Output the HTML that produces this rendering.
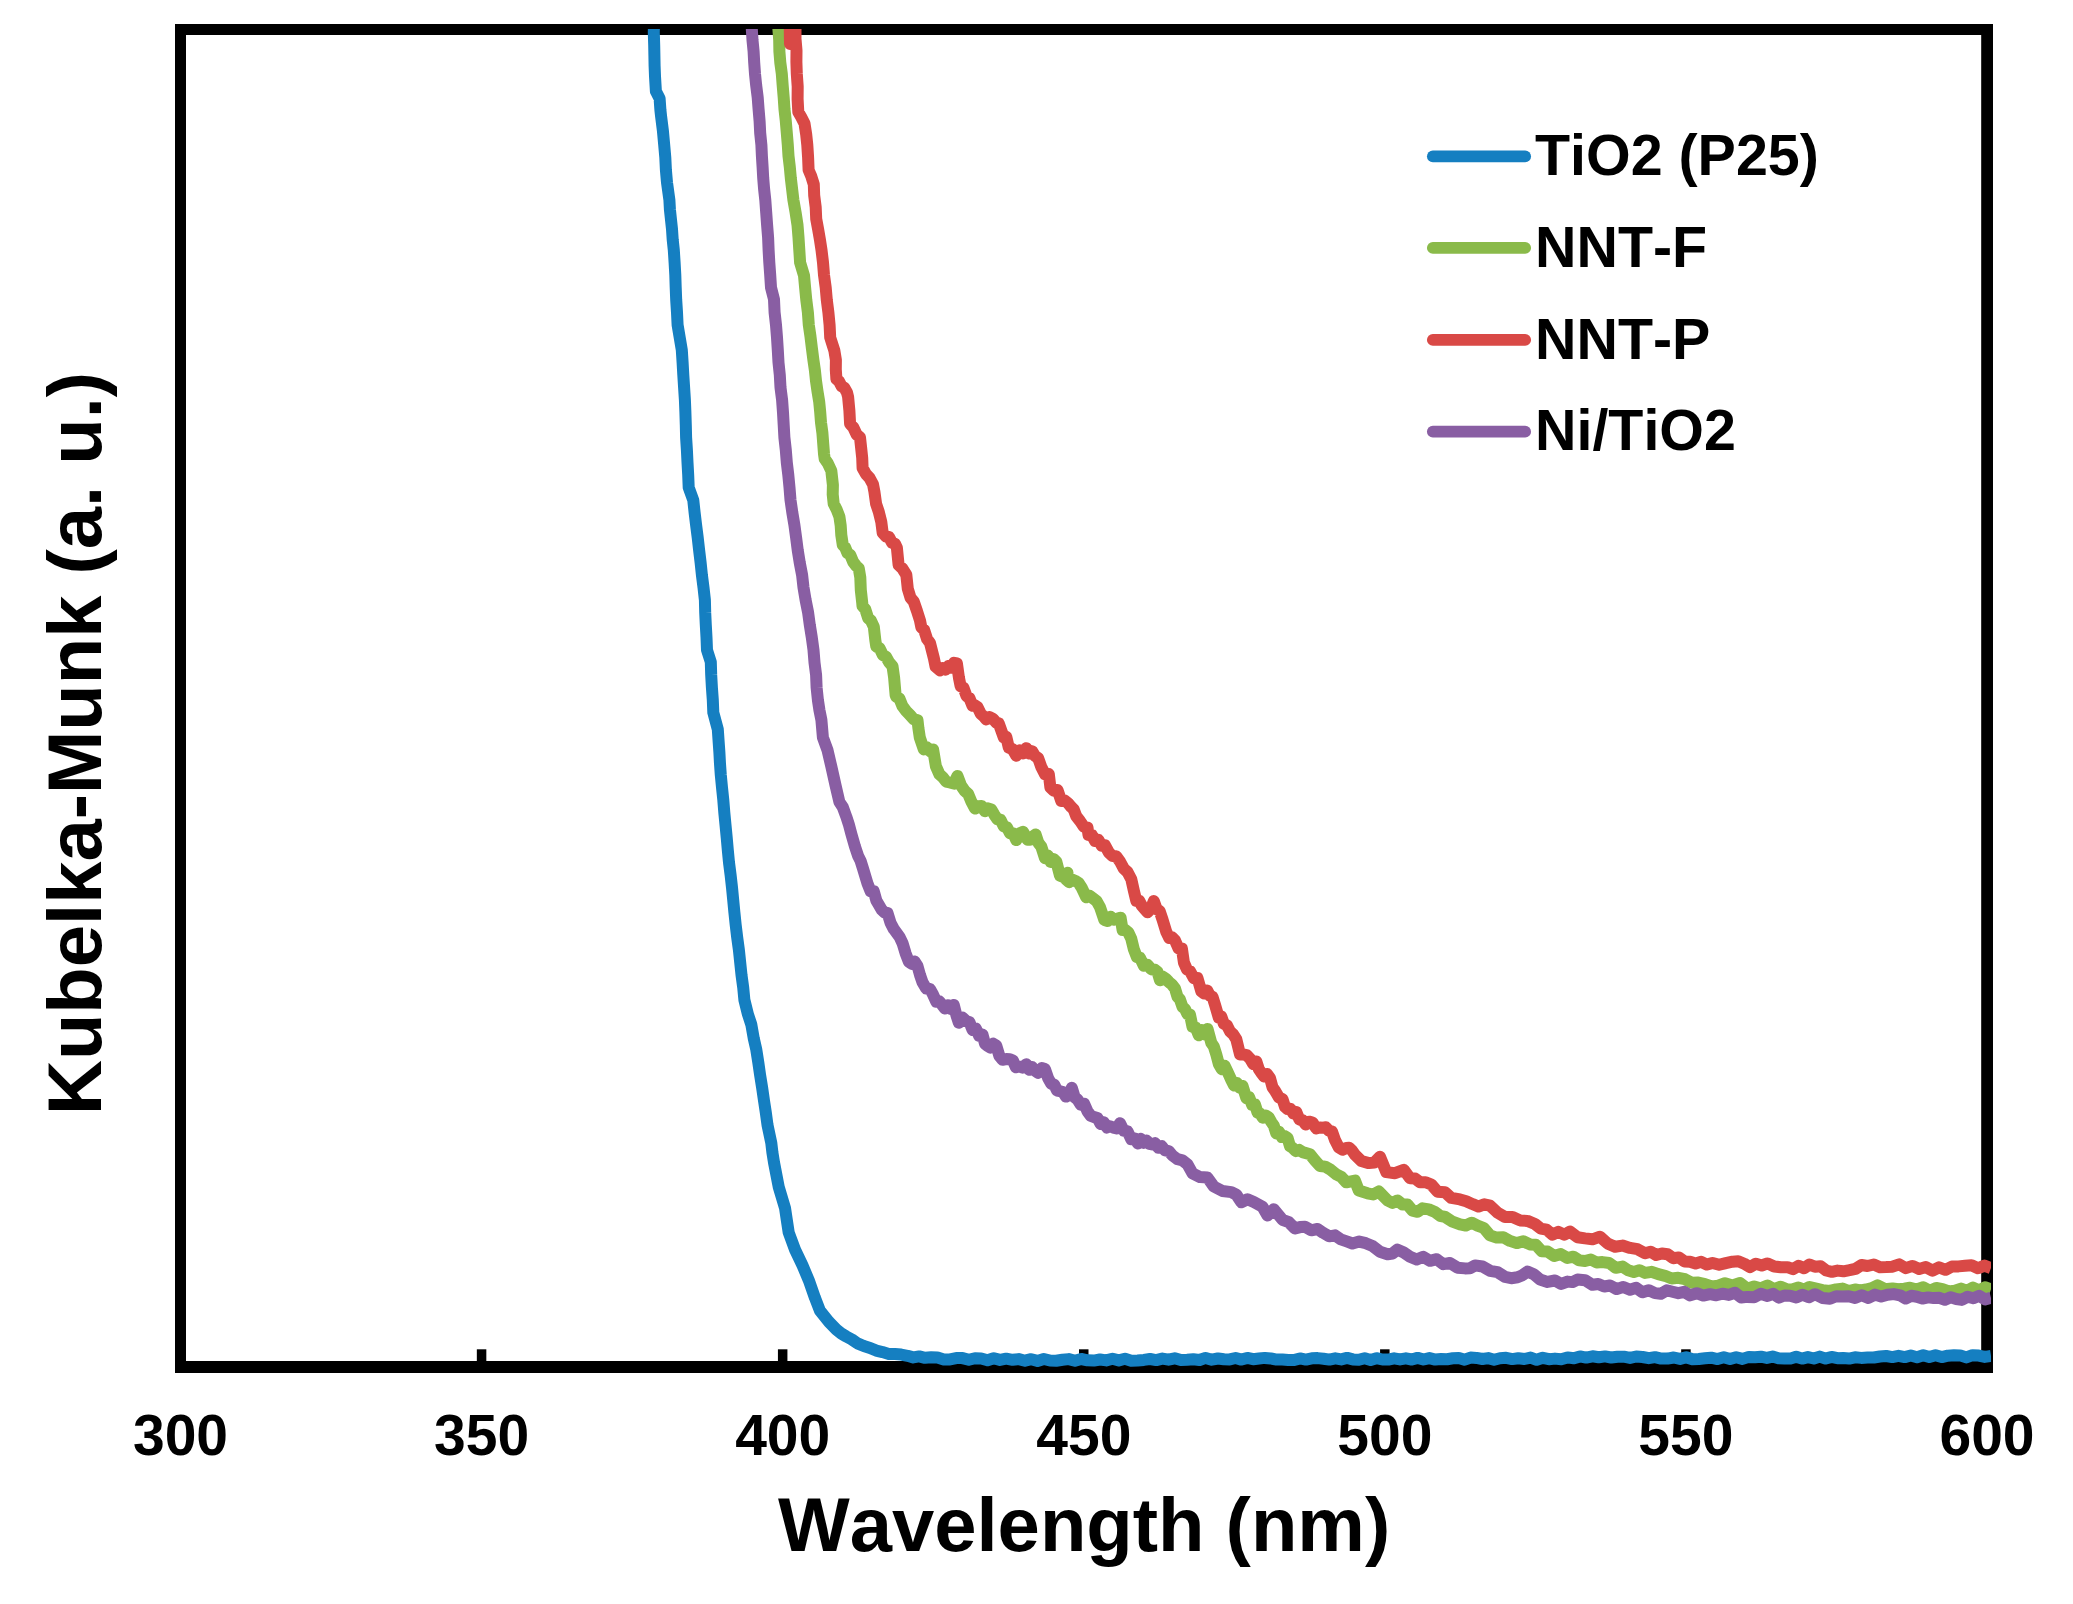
<!DOCTYPE html>
<html lang="en">
<head>
<meta charset="utf-8">
<title>Kubelka-Munk spectra</title>
<style>
html,body{margin:0;padding:0;background:#fff;}
body{width:2073px;height:1604px;overflow:hidden;}
svg{display:block;}
text{font-kerning:none;font-family:"Liberation Sans",Arial,Helvetica,sans-serif;font-weight:bold;fill:#000;}
.tick text{font-size:57px;text-anchor:middle;}
.legend text{font-size:57.4px;}
.title{font-size:76px;text-anchor:middle;}
</style>
</head>
<body>
<svg width="2073" height="1604" viewBox="0 0 2073 1604">
<defs><clipPath id="plot"><rect x="175" y="29" width="1816" height="1344"/></clipPath></defs>
<rect x="0" y="0" width="2073" height="1604" fill="#fff"/>
<g fill="#000">
<rect x="175" y="24" width="11" height="1349"/>
<rect x="175" y="24" width="1818" height="11"/>
<rect x="1981.2" y="24" width="11.8" height="1349"/>
<rect x="175" y="1361" width="1818" height="12"/>
<rect x="476.83" y="1349.3" width="9.5" height="13"/><rect x="777.92" y="1349.3" width="9.5" height="13"/><rect x="1079.00" y="1349.3" width="9.5" height="13"/><rect x="1380.08" y="1349.3" width="9.5" height="13"/><rect x="1681.17" y="1349.3" width="9.5" height="13"/>
</g>
<g clip-path="url(#plot)" fill="none" stroke-width="12" stroke-linejoin="round" stroke-linecap="butt">
<path stroke="#157fc1" d="M654.0,20.0 L653.8,32.5 L654.2,45.0 L654.4,55.4 L654.6,65.9 L655.0,76.3 L655.9,91.3 L659.6,98.5 L660.4,110.0 L661.1,116.3 L662.9,130.7 L664.2,145.0 L665.3,157.5 L665.9,170.0 L667.0,182.5 L669.4,200.0 L669.9,209.4 L670.9,218.8 L672.0,229.2 L672.7,239.6 L673.8,250.0 L674.6,262.5 L675.3,275.0 L675.7,287.5 L676.2,300.0 L677.0,312.5 L677.6,325.0 L679.7,337.5 L681.8,350.0 L682.6,362.5 L683.3,375.0 L684.1,387.5 L684.9,400.0 L685.4,412.5 L685.8,425.0 L686.1,437.5 L686.9,450.0 L687.5,462.5 L688.2,475.0 L688.7,487.5 L693.3,500.3 L694.6,512.5 L696.1,525.0 L697.7,537.5 L699.1,550.0 L700.6,562.5 L701.9,575.0 L703.5,587.5 L704.9,600.0 L705.2,612.5 L705.8,625.0 L706.5,637.5 L707.0,650.0 L710.8,662.0 L711.2,675.0 L711.9,687.5 L712.8,700.0 L713.3,712.5 L717.8,729.4 L718.6,741.2 L719.4,752.5 L720.0,763.8 L720.8,775.0 L722.0,787.5 L723.3,800.0 L724.3,812.5 L725.5,825.0 L726.7,837.5 L727.8,850.0 L729.0,862.5 L730.6,875.0 L732.0,887.5 L733.2,900.0 L734.4,912.5 L735.7,925.0 L737.2,937.5 L738.9,950.0 L740.2,962.5 L741.5,975.0 L743.2,987.5 L744.4,1000.0 L747.9,1014.2 L751.3,1024.5 L753.8,1038.7 L756.3,1049.7 L758.3,1062.5 L760.1,1075.0 L762.1,1087.5 L763.9,1100.0 L765.8,1112.5 L767.5,1125.0 L771.3,1143.0 L772.4,1152.5 L774.0,1162.5 L778.8,1187.3 L785.0,1207.9 L786.8,1220.0 L788.7,1232.5 L795.0,1249.6 L802.5,1265.4 L808.8,1280.3 L815.0,1297.9 L820.0,1310.8 L828.8,1321.8 L836.3,1329.5 L841.3,1333.5 L846.3,1336.5 L851.9,1339.5 L857.5,1343.4 L863.8,1346.0 L870.0,1347.9 L876.2,1350.6 L882.5,1352.1 L888.8,1353.9 L895.0,1354.1 L901.2,1354.6 L907.5,1355.8 L913.3,1357.4 L919.2,1356.4 L925.0,1357.8 L931.2,1357.3 L937.5,1357.5 L943.8,1359.4 L950.0,1359.4 L956.2,1358.1 L962.5,1358.1 L968.8,1359.8 L975.0,1358.2 L981.2,1358.5 L987.5,1360.2 L993.8,1358.2 L1000.0,1359.9 L1006.2,1358.7 L1012.5,1359.8 L1018.8,1359.1 L1025.0,1360.7 L1031.2,1359.2 L1037.5,1360.9 L1043.8,1359.0 L1050.0,1360.5 L1056.2,1360.8 L1062.5,1359.8 L1068.8,1359.1 L1075.0,1360.7 L1081.2,1359.0 L1087.5,1360.3 L1093.8,1360.6 L1100.0,1359.5 L1106.2,1360.4 L1112.5,1358.8 L1118.8,1360.4 L1125.0,1358.8 L1131.2,1360.7 L1137.5,1360.4 L1143.8,1359.9 L1150.0,1359.0 L1156.2,1360.1 L1162.4,1358.6 L1168.5,1359.7 L1174.7,1358.3 L1180.9,1360.1 L1187.1,1359.8 L1193.3,1359.3 L1199.5,1360.0 L1205.6,1357.9 L1211.8,1359.7 L1218.0,1358.5 L1223.9,1359.3 L1229.7,1359.4 L1235.6,1358.0 L1241.4,1359.6 L1247.3,1357.9 L1253.1,1359.2 L1259.0,1358.5 L1264.9,1357.9 L1270.7,1358.4 L1276.6,1359.6 L1282.4,1359.4 L1288.3,1359.9 L1294.1,1360.1 L1300.0,1358.4 L1305.9,1359.6 L1311.8,1358.3 L1317.6,1358.1 L1323.5,1358.7 L1329.4,1359.6 L1335.3,1358.3 L1341.2,1359.4 L1347.1,1357.9 L1352.9,1359.4 L1358.8,1359.8 L1364.7,1358.2 L1370.6,1359.9 L1376.5,1358.2 L1382.4,1359.5 L1388.2,1359.6 L1394.1,1358.3 L1400.0,1359.4 L1405.9,1358.3 L1411.8,1359.5 L1417.6,1357.9 L1423.5,1359.5 L1429.4,1358.1 L1435.3,1359.6 L1441.2,1359.1 L1447.1,1359.2 L1452.9,1358.3 L1458.8,1357.9 L1464.7,1359.7 L1470.6,1357.6 L1476.5,1357.9 L1482.4,1359.0 L1488.2,1358.1 L1494.1,1359.7 L1500.0,1358.2 L1506.1,1357.8 L1512.2,1359.1 L1518.3,1358.2 L1524.4,1359.0 L1530.6,1357.6 L1536.7,1359.8 L1542.8,1357.8 L1548.9,1359.2 L1555.0,1358.6 L1561.2,1359.2 L1567.5,1357.4 L1573.8,1358.3 L1580.0,1356.4 L1586.2,1357.6 L1592.5,1356.3 L1598.8,1357.3 L1605.0,1356.4 L1611.2,1357.5 L1617.5,1356.7 L1623.8,1356.7 L1630.0,1357.9 L1636.2,1356.5 L1642.5,1357.0 L1648.8,1358.2 L1655.0,1357.2 L1661.2,1358.6 L1667.5,1358.6 L1673.8,1357.5 L1680.0,1358.9 L1686.2,1357.2 L1692.5,1359.3 L1698.8,1359.0 L1705.0,1358.3 L1711.2,1357.7 L1717.5,1359.1 L1723.8,1357.3 L1730.0,1359.1 L1736.2,1357.2 L1742.5,1358.9 L1748.8,1356.9 L1755.0,1357.2 L1760.9,1356.7 L1766.8,1357.9 L1772.6,1356.6 L1778.5,1358.3 L1784.4,1358.4 L1790.3,1358.6 L1796.2,1356.7 L1802.1,1358.6 L1807.9,1357.1 L1813.8,1358.5 L1819.7,1356.6 L1825.6,1358.6 L1831.5,1356.9 L1837.4,1358.2 L1843.2,1358.1 L1849.1,1358.6 L1855.0,1357.3 L1861.2,1357.9 L1867.5,1357.5 L1873.8,1357.5 L1880.0,1356.5 L1886.2,1356.0 L1892.3,1357.1 L1898.5,1355.8 L1904.7,1357.1 L1910.8,1355.5 L1917.0,1357.2 L1923.2,1355.3 L1929.3,1357.1 L1935.5,1355.3 L1941.7,1357.1 L1947.8,1355.7 L1954.0,1355.3 L1960.2,1355.4 L1966.3,1357.4 L1972.5,1355.2 L1978.7,1355.6 L1984.8,1356.9 L1991.0,1356.0"/>
<path stroke="#8aba4a" d="M778.0,24.0 L778.4,29.0 L779.2,40.2 L779.4,51.4 L780.3,62.6 L781.8,73.8 L782.7,85.6 L783.7,97.5 L784.5,109.4 L785.8,121.2 L786.8,133.1 L787.8,145.0 L788.5,156.0 L789.8,167.0 L790.8,178.0 L792.1,189.0 L793.4,200.0 L795.6,212.5 L797.5,225.0 L798.5,237.5 L799.3,250.0 L800.1,262.5 L804.0,275.4 L805.1,287.5 L806.3,300.0 L807.9,312.5 L808.8,325.0 L810.5,336.7 L811.9,348.3 L813.4,360.0 L814.9,370.4 L816.0,380.9 L817.5,391.3 L819.2,401.7 L820.2,412.1 L821.0,422.5 L822.4,432.9 L823.2,443.4 L824.0,453.8 L824.7,458.8 L827.8,463.2 L831.3,470.7 L832.9,485.0 L832.7,494.4 L833.7,503.8 L836.5,509.2 L839.4,516.7 L840.7,525.6 L841.3,535.0 L842.8,545.0 L845.0,547.2 L847.5,553.0 L850.3,554.9 L853.1,561.8 L856.0,565.7 L858.8,568.4 L860.3,577.5 L860.8,590.0 L862.2,602.5 L862.5,606.1 L865.3,609.2 L868.1,618.0 L871.0,620.7 L873.8,626.7 L875.3,640.0 L876.3,646.7 L879.5,648.0 L882.8,654.9 L886.0,656.7 L889.3,662.6 L892.5,666.2 L894.1,677.5 L895.6,695.0 L896.3,696.8 L899.4,698.5 L902.5,706.2 L906.2,711.1 L910.0,715.0 L913.8,719.4 L917.5,720.1 L918.4,728.1 L919.8,737.5 L923.8,749.4 L926.9,747.5 L930.0,751.0 L933.1,749.4 L935.9,766.3 L939.4,774.2 L942.5,776.9 L946.2,781.6 L950.0,782.5 L953.8,783.6 L957.5,776.0 L961.2,785.8 L965.0,791.2 L968.1,793.8 L971.3,801.5 L975.0,808.6 L978.3,806.2 L981.7,806.0 L985.0,811.2 L988.1,808.4 L991.3,809.4 L994.4,814.8 L997.5,819.4 L1000.6,819.8 L1003.8,826.5 L1006.9,827.3 L1010.0,833.2 L1013.1,833.3 L1016.3,840.1 L1019.7,833.2 L1023.1,831.8 L1027.5,839.7 L1030.2,839.7 L1032.9,836.6 L1035.6,834.5 L1038.4,842.8 L1041.3,846.7 L1045.0,858.2 L1047.8,855.6 L1050.7,861.9 L1053.5,859.0 L1056.3,861.6 L1060.0,875.7 L1063.8,877.2 L1067.5,872.7 L1066.6,880.0 L1069.2,882.2 L1072.1,879.5 L1075.0,880.7 L1078.5,882.8 L1081.9,888.1 L1086.3,897.3 L1089.7,895.8 L1093.1,898.3 L1096.5,900.9 L1100.0,907.1 L1104.4,920.1 L1107.5,921.0 L1110.7,916.8 L1113.8,919.7 L1117.2,918.8 L1120.6,917.7 L1122.6,930.0 L1125.4,930.0 L1128.4,932.6 L1131.3,938.8 L1133.8,949.1 L1136.9,957.2 L1140.0,957.7 L1143.8,965.7 L1147.5,964.8 L1151.2,969.2 L1155.0,969.8 L1157.5,971.9 L1160.0,980.3 L1162.9,976.8 L1165.9,978.7 L1168.8,981.9 L1171.9,984.6 L1175.0,988.5 L1177.5,996.8 L1180.0,999.6 L1182.5,1006.9 L1185.0,1009.0 L1187.5,1014.3 L1190.0,1014.7 L1192.5,1026.9 L1195.7,1027.5 L1198.8,1035.3 L1201.7,1030.0 L1204.6,1034.5 L1207.5,1028.9 L1211.3,1042.8 L1213.8,1046.5 L1216.3,1054.5 L1218.8,1064.0 L1221.7,1069.2 L1224.6,1065.8 L1227.5,1071.6 L1231.3,1080.0 L1234.1,1085.5 L1236.9,1083.0 L1239.7,1087.8 L1242.5,1085.9 L1246.3,1098.0 L1249.2,1097.4 L1252.1,1104.9 L1255.0,1104.5 L1257.5,1112.6 L1260.0,1113.5 L1262.8,1117.7 L1265.7,1115.5 L1268.5,1117.1 L1271.3,1122.0 L1273.8,1125.7 L1276.3,1133.5 L1279.1,1131.9 L1281.9,1137.0 L1284.7,1136.1 L1287.5,1137.8 L1290.0,1146.2 L1292.5,1147.8 L1295.8,1151.1 L1299.2,1149.9 L1302.5,1152.1 L1310.0,1154.2 L1315.0,1160.4 L1320.0,1166.0 L1325.0,1166.6 L1330.7,1169.8 L1336.3,1174.4 L1341.3,1176.9 L1346.3,1182.3 L1355.0,1180.6 L1358.8,1190.6 L1367.5,1193.3 L1373.2,1194.5 L1378.8,1191.5 L1387.5,1200.4 L1392.5,1202.9 L1397.5,1200.5 L1402.5,1204.4 L1407.5,1204.6 L1412.5,1210.6 L1417.5,1211.8 L1422.5,1208.3 L1428.8,1209.4 L1435.0,1212.0 L1440.0,1215.8 L1445.0,1216.9 L1452.5,1221.7 L1460.0,1224.4 L1465.8,1225.5 L1471.7,1222.7 L1477.5,1225.6 L1483.8,1228.0 L1490.0,1235.4 L1496.7,1237.6 L1503.3,1237.2 L1510.0,1240.9 L1516.7,1243.1 L1523.3,1241.3 L1530.0,1244.4 L1535.8,1244.7 L1541.7,1251.2 L1547.5,1251.6 L1554.2,1256.1 L1560.8,1254.1 L1567.5,1258.0 L1573.3,1256.7 L1579.2,1260.4 L1585.0,1261.0 L1590.8,1259.5 L1596.7,1262.5 L1602.5,1262.1 L1609.2,1263.0 L1615.8,1267.8 L1622.5,1266.6 L1628.1,1270.2 L1633.8,1271.9 L1639.4,1270.2 L1645.0,1272.9 L1651.7,1271.8 L1658.3,1274.2 L1665.0,1275.8 L1671.7,1278.5 L1678.3,1277.8 L1685.0,1279.2 L1691.7,1282.8 L1698.3,1282.6 L1705.0,1284.1 L1711.7,1286.4 L1718.3,1285.6 L1725.0,1283.2 L1732.5,1285.4 L1740.0,1283.0 L1747.5,1288.7 L1754.2,1286.4 L1760.8,1288.4 L1767.5,1285.6 L1774.2,1289.2 L1780.8,1286.7 L1787.5,1289.5 L1793.0,1289.3 L1798.5,1287.5 L1804.0,1289.6 L1809.5,1287.0 L1815.0,1288.4 L1822.5,1290.2 L1830.0,1290.9 L1836.2,1289.4 L1842.5,1288.6 L1848.8,1291.0 L1855.0,1289.5 L1860.6,1290.5 L1866.2,1289.5 L1871.9,1288.1 L1877.5,1285.4 L1885.0,1289.2 L1892.5,1288.4 L1898.3,1289.2 L1904.2,1288.7 L1910.0,1287.8 L1916.7,1289.5 L1923.3,1287.3 L1930.0,1290.8 L1936.2,1288.0 L1942.5,1289.2 L1948.8,1291.5 L1955.0,1290.6 L1961.0,1288.6 L1967.0,1290.8 L1973.0,1287.6 L1979.0,1290.5 L1985.0,1287.3 L1991.0,1289.3"/>
<path stroke="#d94946" d="M790.0,18.0 L789.8,31.0 L790.0,44.0 L792.8,34.5 L795.5,27.2 L795.5,38.7 L796.5,50.4 L796.4,62.1 L796.8,73.8 L797.7,86.5 L797.6,99.2 L798.3,112.0 L801.2,117.0 L804.5,123.5 L806.2,134.5 L807.3,145.0 L808.1,157.5 L808.6,170.0 L811.1,175.8 L813.8,184.4 L814.2,195.6 L815.7,207.2 L816.2,218.8 L818.1,229.2 L819.9,239.6 L821.5,250.0 L823.0,262.5 L824.0,275.0 L825.7,287.5 L826.8,300.0 L828.4,312.5 L829.6,325.0 L830.2,337.5 L834.3,350.3 L835.9,360.0 L835.8,369.5 L836.4,379.0 L839.0,381.3 L841.6,386.3 L844.3,387.8 L847.0,392.5 L848.1,396.9 L849.4,410.8 L850.1,424.0 L853.3,427.4 L856.7,434.6 L860.0,437.4 L861.1,447.5 L862.2,457.8 L862.6,468.0 L866.0,474.1 L869.5,477.9 L873.0,484.4 L874.4,491.6 L876.1,503.8 L878.8,511.9 L881.3,522.0 L882.7,533.0 L886.1,536.6 L889.0,537.0 L892.0,542.8 L895.0,543.7 L896.9,547.8 L898.6,565.0 L902.5,568.7 L906.3,574.7 L907.8,588.8 L910.6,597.9 L913.8,601.7 L916.9,610.7 L920.0,620.5 L921.3,627.2 L924.2,630.1 L927.1,639.1 L930.0,643.1 L933.8,657.9 L935.6,666.7 L940.0,670.3 L942.8,668.0 L945.6,669.7 L948.5,665.9 L951.3,667.8 L954.1,662.8 L956.9,663.4 L958.9,677.5 L960.6,686.2 L963.5,687.8 L966.5,696.0 L969.4,698.0 L972.5,705.8 L974.4,705.0 L977.5,707.0 L980.7,713.7 L983.8,716.4 L986.3,719.5 L989.6,717.1 L993.0,718.8 L996.3,722.7 L998.8,723.4 L1001.3,730.5 L1003.8,737.4 L1006.3,736.8 L1008.8,747.7 L1012.5,749.1 L1016.3,755.7 L1019.6,750.2 L1023.0,753.6 L1026.3,748.2 L1029.2,753.6 L1032.1,751.2 L1035.0,755.9 L1038.2,758.2 L1041.3,767.0 L1045.0,774.2 L1048.8,774.0 L1050.4,787.5 L1053.8,790.8 L1057.5,789.9 L1061.3,801.1 L1064.6,800.4 L1068.0,803.1 L1071.3,807.1 L1073.8,809.6 L1076.3,816.3 L1080.0,821.0 L1083.8,826.6 L1087.5,827.6 L1088.5,835.0 L1091.9,835.1 L1095.0,840.9 L1098.3,839.8 L1101.7,845.7 L1105.0,845.3 L1108.8,852.4 L1112.5,856.1 L1116.2,856.2 L1120.0,861.5 L1123.8,868.6 L1127.5,872.0 L1131.3,879.3 L1133.8,890.5 L1136.3,900.9 L1139.1,900.7 L1141.9,905.9 L1144.7,909.1 L1147.5,912.2 L1150.7,909.0 L1153.8,901.1 L1156.7,909.3 L1159.6,910.9 L1162.5,919.5 L1166.3,931.9 L1169.2,938.0 L1172.1,937.3 L1175.0,940.4 L1178.5,948.4 L1181.9,948.6 L1183.9,962.5 L1186.9,969.3 L1190.0,971.2 L1193.8,978.2 L1197.5,978.1 L1201.3,991.3 L1204.2,993.6 L1207.1,990.4 L1210.0,995.9 L1212.5,996.7 L1215.0,1004.8 L1218.8,1017.7 L1221.3,1016.4 L1223.8,1023.7 L1226.9,1025.3 L1230.0,1031.4 L1233.2,1034.4 L1236.3,1039.3 L1240.0,1054.4 L1243.3,1054.5 L1246.7,1055.1 L1250.0,1058.6 L1253.2,1064.1 L1256.3,1061.4 L1258.8,1069.2 L1261.3,1072.8 L1264.2,1076.6 L1267.1,1074.1 L1270.0,1078.0 L1272.5,1087.2 L1275.0,1090.7 L1278.8,1097.3 L1282.5,1099.1 L1285.0,1106.8 L1287.5,1109.1 L1290.4,1108.8 L1293.4,1113.5 L1296.3,1111.9 L1299.4,1119.6 L1302.5,1120.2 L1305.8,1124.5 L1309.2,1121.7 L1312.5,1122.5 L1316.2,1128.4 L1320.0,1127.5 L1322.9,1127.7 L1325.9,1127.3 L1328.8,1130.7 L1331.9,1131.3 L1335.0,1140.1 L1338.8,1147.4 L1342.5,1149.7 L1346.3,1148.0 L1349.2,1147.8 L1352.1,1150.6 L1355.0,1154.7 L1361.3,1161.0 L1368.8,1163.1 L1374.4,1162.5 L1380.0,1156.8 L1386.3,1172.1 L1395.0,1173.2 L1403.8,1169.8 L1410.0,1178.3 L1415.0,1178.4 L1420.0,1182.3 L1425.7,1182.2 L1431.3,1184.5 L1437.5,1191.7 L1445.0,1192.3 L1451.3,1197.9 L1460.0,1199.4 L1466.2,1201.2 L1472.5,1204.1 L1478.3,1206.6 L1484.2,1204.3 L1490.0,1205.7 L1497.5,1212.6 L1505.0,1217.0 L1512.5,1217.0 L1520.0,1220.4 L1527.5,1220.9 L1535.0,1224.0 L1540.8,1228.7 L1546.7,1229.7 L1552.5,1234.7 L1558.3,1231.8 L1564.2,1234.7 L1570.0,1231.6 L1577.5,1237.3 L1585.0,1238.4 L1592.5,1239.3 L1600.0,1236.7 L1607.5,1243.4 L1615.0,1246.7 L1622.5,1245.6 L1630.0,1247.9 L1637.5,1249.2 L1645.0,1253.3 L1650.6,1251.7 L1656.2,1255.0 L1661.9,1253.5 L1667.5,1254.2 L1673.1,1258.2 L1678.8,1257.4 L1684.4,1261.4 L1690.0,1261.7 L1695.6,1263.4 L1701.2,1261.8 L1706.9,1264.6 L1712.5,1262.9 L1719.2,1264.8 L1725.8,1263.1 L1732.5,1261.7 L1738.3,1261.3 L1744.2,1263.7 L1750.0,1267.2 L1755.8,1263.7 L1761.7,1265.5 L1767.5,1263.4 L1774.2,1266.5 L1780.8,1267.2 L1787.5,1267.2 L1793.0,1269.2 L1798.5,1265.8 L1804.0,1268.3 L1809.5,1264.5 L1815.0,1266.8 L1820.6,1266.2 L1826.2,1270.5 L1831.9,1271.8 L1837.5,1270.6 L1843.5,1271.3 L1849.5,1270.2 L1855.5,1268.9 L1861.5,1265.0 L1867.5,1266.0 L1873.8,1264.5 L1880.0,1267.2 L1886.2,1267.1 L1892.5,1266.7 L1899.2,1264.3 L1905.8,1268.2 L1912.5,1265.9 L1919.2,1269.0 L1925.8,1267.1 L1932.5,1270.6 L1939.0,1267.3 L1945.5,1269.8 L1952.0,1266.5 L1958.5,1266.4 L1965.0,1265.8 L1971.5,1265.3 L1978.0,1268.3 L1984.5,1265.6 L1991.0,1268.1"/>
<path stroke="#895ea3" d="M752.0,24.0 L751.8,29.0 L752.5,40.2 L753.6,51.4 L754.2,62.6 L755.0,73.8 L756.2,85.6 L757.7,97.5 L758.6,109.4 L759.6,121.2 L760.2,133.1 L761.4,145.0 L761.9,156.0 L762.6,167.0 L763.2,178.0 L764.1,189.0 L765.3,200.0 L766.2,212.5 L767.1,225.0 L768.1,237.5 L768.6,250.0 L769.3,262.5 L770.2,275.0 L771.0,287.5 L774.0,299.4 L774.6,312.5 L776.0,325.0 L777.0,337.5 L777.8,350.0 L778.5,362.5 L779.8,375.0 L780.5,387.5 L782.1,400.0 L783.0,412.5 L783.7,425.0 L784.4,437.5 L785.8,450.0 L786.8,462.5 L788.3,475.0 L789.5,487.5 L790.5,500.0 L792.3,512.5 L794.4,525.0 L796.1,537.5 L797.7,550.0 L799.7,562.5 L802.1,575.0 L803.5,587.5 L805.6,600.0 L808.1,612.5 L809.8,625.0 L811.8,637.5 L813.5,650.0 L814.5,662.5 L816.1,675.0 L816.6,687.5 L817.9,700.0 L819.4,710.0 L821.4,720.0 L822.9,737.5 L827.5,750.1 L831.3,766.4 L835.6,785.6 L839.4,802.0 L842.8,807.1 L846.3,816.7 L848.8,824.3 L851.3,833.7 L855.0,846.6 L858.1,855.9 L860.6,860.9 L863.1,868.9 L867.5,883.5 L870.6,891.3 L873.8,891.3 L876.3,900.4 L878.8,904.7 L881.7,909.7 L884.6,912.6 L887.5,912.9 L890.6,923.0 L893.8,929.1 L896.7,933.1 L899.6,937.0 L902.5,943.1 L905.6,953.3 L908.8,961.6 L911.7,963.8 L914.6,961.5 L917.5,966.0 L920.0,975.0 L922.5,982.2 L926.2,988.6 L930.0,989.0 L933.1,994.7 L936.3,1001.8 L939.2,1001.2 L942.1,1004.8 L945.0,1008.6 L947.9,1005.3 L950.9,1009.1 L953.8,1005.0 L956.3,1014.9 L958.8,1022.8 L962.5,1017.6 L966.3,1021.2 L969.4,1022.0 L972.5,1029.9 L975.8,1028.4 L979.2,1036.0 L982.5,1034.5 L985.0,1043.8 L987.5,1045.8 L990.4,1047.5 L993.4,1043.8 L996.3,1045.6 L999.4,1056.0 L1002.5,1059.8 L1006.2,1059.1 L1010.0,1059.3 L1012.9,1060.5 L1015.9,1067.3 L1018.8,1066.4 L1022.5,1067.6 L1026.3,1064.2 L1029.2,1069.8 L1032.1,1067.1 L1035.0,1070.8 L1038.3,1072.9 L1041.7,1068.1 L1045.0,1069.1 L1048.2,1078.4 L1051.3,1083.9 L1054.2,1084.6 L1057.1,1090.6 L1060.0,1091.2 L1063.0,1092.0 L1066.0,1096.6 L1068.9,1094.7 L1071.8,1087.8 L1074.7,1097.3 L1077.5,1099.5 L1080.8,1104.7 L1084.2,1103.8 L1087.5,1111.4 L1090.8,1115.9 L1094.2,1117.1 L1097.5,1118.0 L1100.6,1124.0 L1103.8,1122.2 L1106.9,1127.5 L1110.0,1126.2 L1113.3,1127.6 L1116.7,1128.4 L1120.0,1123.2 L1123.8,1130.9 L1127.5,1131.3 L1131.2,1139.3 L1135.0,1138.5 L1137.9,1143.5 L1140.7,1138.8 L1143.6,1142.9 L1146.4,1140.4 L1149.3,1143.9 L1152.1,1144.5 L1155.0,1143.1 L1158.3,1147.6 L1161.7,1146.2 L1165.0,1150.4 L1168.8,1151.1 L1172.5,1155.5 L1177.5,1159.2 L1182.5,1160.3 L1187.5,1164.4 L1192.5,1173.4 L1200.0,1177.1 L1207.5,1177.6 L1213.8,1186.5 L1222.5,1191.0 L1231.3,1192.1 L1236.3,1194.6 L1241.3,1202.2 L1247.5,1199.3 L1253.8,1202.0 L1262.5,1206.7 L1267.5,1215.5 L1273.8,1209.2 L1282.5,1219.8 L1288.8,1222.2 L1295.0,1228.5 L1300.0,1227.1 L1305.0,1226.8 L1311.2,1230.3 L1317.5,1229.0 L1323.3,1232.9 L1329.2,1236.3 L1335.0,1235.3 L1340.8,1239.4 L1346.7,1241.4 L1352.5,1243.5 L1359.2,1241.6 L1365.8,1243.2 L1372.5,1246.0 L1380.0,1251.8 L1387.5,1254.3 L1392.5,1253.5 L1397.5,1249.6 L1403.8,1252.5 L1410.0,1256.7 L1416.7,1259.6 L1423.3,1256.8 L1430.0,1260.8 L1436.7,1259.2 L1443.3,1264.2 L1450.0,1263.0 L1457.5,1267.7 L1465.0,1268.4 L1470.0,1268.2 L1475.0,1265.4 L1482.5,1266.5 L1490.0,1270.8 L1497.5,1272.1 L1505.0,1276.9 L1511.2,1278.2 L1517.5,1277.3 L1522.5,1275.2 L1527.5,1271.6 L1533.8,1274.2 L1540.0,1279.6 L1547.5,1281.9 L1555.0,1280.5 L1561.2,1283.9 L1567.5,1281.6 L1572.5,1282.1 L1577.5,1279.6 L1585.0,1280.2 L1592.5,1284.8 L1598.3,1284.0 L1604.2,1286.5 L1610.0,1285.5 L1616.7,1289.1 L1623.3,1286.9 L1630.0,1289.8 L1636.2,1287.8 L1642.5,1292.3 L1648.8,1290.2 L1655.0,1293.1 L1660.8,1293.8 L1666.7,1290.3 L1672.5,1291.8 L1678.3,1293.2 L1684.2,1291.8 L1690.0,1295.4 L1696.7,1293.2 L1703.3,1295.6 L1710.0,1294.2 L1716.2,1295.3 L1722.5,1293.7 L1728.8,1294.9 L1735.0,1292.8 L1741.2,1297.5 L1747.5,1296.9 L1754.2,1297.3 L1760.8,1293.8 L1767.5,1295.9 L1773.1,1293.8 L1778.8,1297.6 L1784.4,1295.5 L1790.0,1295.8 L1796.2,1297.4 L1802.5,1294.7 L1808.8,1297.3 L1815.0,1294.2 L1822.5,1298.0 L1830.0,1298.8 L1836.2,1296.3 L1842.5,1296.6 L1848.8,1296.2 L1855.0,1297.9 L1861.7,1295.2 L1868.3,1298.0 L1875.0,1294.6 L1881.2,1296.6 L1887.5,1294.8 L1893.8,1294.1 L1900.0,1295.3 L1905.6,1298.5 L1911.2,1295.8 L1916.9,1296.7 L1922.5,1298.5 L1928.1,1297.4 L1933.8,1298.1 L1939.4,1297.8 L1945.0,1299.8 L1950.6,1297.3 L1956.2,1299.0 L1961.9,1299.9 L1967.5,1296.7 L1973.4,1298.2 L1979.2,1295.8 L1985.1,1299.4 L1991.0,1297.9"/>
</g>
<g class="tick"><text x="180.5" y="1454.6">300</text><text x="481.6" y="1454.6">350</text><text x="782.7" y="1454.6">400</text><text x="1083.8" y="1454.6">450</text><text x="1384.8" y="1454.6">500</text><text x="1685.9" y="1454.6">550</text><text x="1987.0" y="1454.6">600</text></g>
<g class="legend"><line x1="1432.8" y1="156.4" x2="1525.2" y2="156.4" stroke="#157fc1" stroke-width="11.7" stroke-linecap="round"/><text x="1535" y="174.8">TiO2 (P25)</text><line x1="1432.8" y1="247.9" x2="1525.2" y2="247.9" stroke="#8aba4a" stroke-width="11.7" stroke-linecap="round"/><text x="1535" y="266.6">NNT-F</text><line x1="1432.8" y1="339.9" x2="1525.2" y2="339.9" stroke="#d94946" stroke-width="11.7" stroke-linecap="round"/><text x="1535" y="358.6">NNT-P</text><line x1="1432.8" y1="431.7" x2="1525.2" y2="431.7" stroke="#895ea3" stroke-width="11.7" stroke-linecap="round"/><text x="1535" y="450.4">Ni/TiO2</text></g>
<text class="title" x="1084.1" y="1550.5">Wavelength (nm)</text>
<text class="title" transform="translate(101,743.4) rotate(-90)" x="0" y="0">Kubelka-Munk (a. u.)</text>
</svg>
</body>
</html>
